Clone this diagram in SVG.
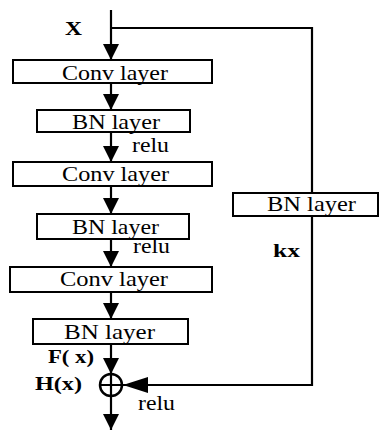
<svg xmlns="http://www.w3.org/2000/svg" width="380" height="431" viewBox="0 0 380 431">
<style>
.box{fill:#fff;stroke:#000;stroke-width:2}
.t{font-family:"Liberation Serif","Times New Roman",serif;font-size:21px;fill:#000}
.b{font-family:"Liberation Serif","Times New Roman",serif;font-size:19px;font-weight:bold;fill:#000}
.ln{fill:none;stroke:#000;stroke-width:2.2}
</style>
<defs>
<marker id="ah" markerUnits="userSpaceOnUse" markerWidth="18" markerHeight="18" viewBox="0 0 18 18" refX="16" refY="9" orient="auto">
<path d="M0,1 L16,9 L0,17 Z" fill="#000"/>
</marker>
<marker id="ahl" markerUnits="userSpaceOnUse" markerWidth="26" markerHeight="18" viewBox="0 0 26 18" refX="25" refY="9" orient="auto">
<path d="M0,1 L25,9 L0,17 Z" fill="#000"/>
</marker>
</defs>
<rect width="380" height="431" fill="#fff"/>
<g id="connectors">
<path class="ln" d="M111,10 V60" marker-end="url(#ah)"/>
<path class="ln" d="M111,28 H312 V385 H123" marker-end="url(#ahl)"/>
<path class="ln" d="M111,83 V110" marker-end="url(#ah)"/>
<path class="ln" d="M111,132 V162" marker-end="url(#ah)"/>
<path class="ln" d="M111,186 V214" marker-end="url(#ah)"/>
<path class="ln" d="M111,239 V267" marker-end="url(#ah)"/>
<path class="ln" d="M111,292 V319" marker-end="url(#ah)"/>
<path class="ln" d="M111,344 V374" marker-end="url(#ah)"/>
<path class="ln" d="M111,396 V430" marker-end="url(#ah)"/>
</g>
<g id="label-x"><text class="b" x="65" y="35" textLength="17" lengthAdjust="spacingAndGlyphs" style="font-size:18px">X</text></g>
<g id="conv1"><rect class="box" x="13" y="60" width="199" height="23"/><text class="t" x="62" y="80" textLength="106" lengthAdjust="spacingAndGlyphs">Conv layer</text></g>
<g id="bn1"><rect class="box" x="37" y="110" width="153" height="22"/><text class="t" x="72" y="129" textLength="88" lengthAdjust="spacingAndGlyphs">BN layer</text></g>
<g id="relu1"><text class="t" x="132" y="152" textLength="37" lengthAdjust="spacingAndGlyphs">relu</text></g>
<g id="conv2"><rect class="box" x="13" y="162" width="199" height="24"/><text class="t" x="62" y="181" textLength="107" lengthAdjust="spacingAndGlyphs">Conv layer</text></g>
<g id="bn2"><rect class="box" x="37" y="214" width="152" height="25"/><text class="t" x="72" y="234" textLength="87" lengthAdjust="spacingAndGlyphs">BN layer</text></g>
<g id="relu2"><text class="t" x="133" y="253" textLength="37" lengthAdjust="spacingAndGlyphs">relu</text></g>
<g id="conv3"><rect class="box" x="10" y="267" width="202" height="25"/><text class="t" x="60" y="286" textLength="108" lengthAdjust="spacingAndGlyphs">Conv layer</text></g>
<g id="bn3"><rect class="box" x="33" y="319" width="155" height="25"/><text class="t" x="64" y="339" textLength="91" lengthAdjust="spacingAndGlyphs">BN layer</text></g>
<g id="label-fx"><text class="b" x="48" y="363" textLength="46" lengthAdjust="spacingAndGlyphs">F( x)</text></g>
<g id="label-hx"><text class="b" x="35" y="390" textLength="47" lengthAdjust="spacingAndGlyphs">H(x)</text></g>
<g id="sum"><circle cx="111" cy="385" r="11" fill="#fff" stroke="#000" stroke-width="2.5"/><path class="ln" d="M100,385 H122 M111,374 V396"/></g>
<g id="relu3"><text class="t" x="138" y="410" textLength="37" lengthAdjust="spacingAndGlyphs">relu</text></g>
<g id="bn-skip"><rect class="box" x="233" y="193" width="145" height="23"/><text class="t" x="267" y="211" textLength="89" lengthAdjust="spacingAndGlyphs">BN layer</text></g>
<g id="label-kx"><text class="b" x="273" y="257" textLength="27" lengthAdjust="spacingAndGlyphs">kx</text></g>
</svg>
